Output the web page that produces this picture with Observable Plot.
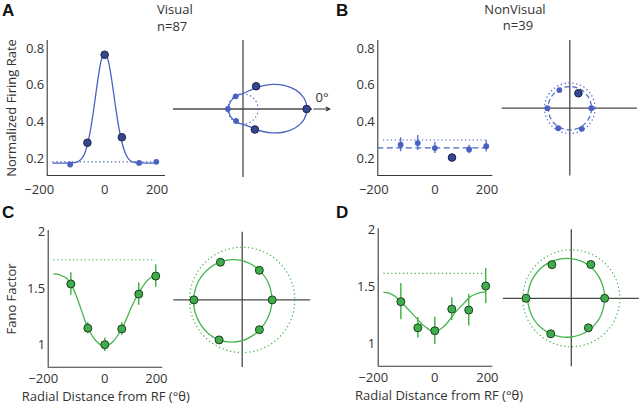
<!DOCTYPE html>
<html><head><meta charset="utf-8">
<script src="https://cdn.jsdelivr.net/npm/d3@7"></script>
<script src="https://cdn.jsdelivr.net/npm/@observablehq/plot@0.6"></script>
<style>
body{margin:0;background:#fff;}
#fig{position:relative;width:640px;height:405px;font-family:"Open Sans",sans-serif;color:#333;overflow:hidden;background:#fff}
#fig svg{position:absolute;left:0;top:0;background:transparent}
.lbl{position:absolute;white-space:nowrap;line-height:1;font-size:13px;color:#333}
.big{font-family:"Liberation Sans",Arial,sans-serif;font-weight:bold;font-size:17px;color:#111}
</style></head><body><div id="fig"></div>
<script>
// ---------- data ----------
const angles = [-120, -60, 0, 60, 120, 180];
const xTicks = [-200, 0, 200];
const rateTicks = [0.2, 0.4, 0.6, 0.8];
const fanoTicks = [1, 1.5, 2];

const visualRate = [0.167, 0.286, 0.767, 0.316, 0.176, 0.182];
const visualErr = [0.006, 0.01, 0.012, 0.01, 0.006, 0.006];
const visualSig = [0, 1, 1, 1, 0, 0];
const visualBaseline = 0.182;
const visualFitAngles = [-180,-150,-120,-100,-90,-80,-70,-60,-50,-40,-30,-20,-10,0,10,20,30,40,50,60,70,80,90,100,120,150,180];
const visualFitRate = [0.175,0.175,0.176,0.179,0.185,0.199,0.226,0.276,0.350,0.447,0.560,0.667,0.745,0.770,0.748,0.675,0.572,0.462,0.365,0.290,0.237,0.205,0.188,0.180,0.176,0.175,0.175];

const nonVisualRate = [0.275, 0.284, 0.257, 0.205, 0.249, 0.267];
const nonVisualErr = [0.038, 0.041, 0.030, 0.020, 0.023, 0.032];
const nonVisualSig = [0, 0, 0, 1, 0, 0];
const nonVisualBaseline = 0.301;
const nonVisualMean = 0.258;
const nonVisualMeanSpan = [-200, 188];

const fitAngles = [-180,-165,-150,-135,-120,-105,-90,-75,-60,-45,-30,-15,0,15,30,45,60,75,90,105,120,135,150,165,180];
const visualFano = [1.54, 1.147, 1.0, 1.14, 1.45, 1.61];
const visualFanoErr = [0.10, 0.05, 0.06, 0.055, 0.10, 0.10];
const visualFanoBaseline = 1.755;
const visualFanoFit = [1.630,1.625,1.610,1.590,1.540,1.460,1.360,1.250,1.150,1.080,1.030,1.000,0.990,1.000,1.030,1.080,1.140,1.220,1.310,1.390,1.460,1.520,1.570,1.600,1.620];

const nonVisualFano = [1.368, 1.138, 1.112, 1.303, 1.294, 1.506];
const nonVisualFanoErr = [0.16, 0.09, 0.12, 0.10, 0.14, 0.155];
const nonVisualFanoBaseline = 1.617;
const nonVisualFanoFit = [1.450,1.445,1.430,1.405,1.370,1.330,1.290,1.250,1.210,1.170,1.140,1.115,1.110,1.120,1.145,1.185,1.235,1.280,1.320,1.360,1.400,1.425,1.440,1.450,1.455];

// ---------- styles ----------
const C = {
  axis: "#3a3a3a", cross: "#4a4a4a",
  blue: "#4b63c3", blueDot: "#4a60c2", blueDark: "#34488f", blueEdge: "#1b2245", blueErr: "#5a70c8",
  green: "#45b64c", greenDot: "#3fae4a", greenEdge: "#1f3b22"
};
const FONT = "'Open Sans', sans-serif";
const fmtNeg = d => (d < 0 ? "\u2212" + Math.abs(d) : String(d));
const rad = a => a * Math.PI / 180;
const px = d => d.v * Math.cos(rad(d.a));
const py = d => d.v * Math.sin(rad(d.a));
const table = (vals, errs, sig) => angles.map((a, i) => ({a, v: vals[i], e: errs ? errs[i] : 0, sig: sig ? sig[i] : 1}));
const fitTable = (as, vs) => as.map((a, i) => ({a, v: vs[i]}));
const closed = t => t.filter(d => d.a > -180);

const fig = document.getElementById("fig");
const style = {background: "transparent", fontFamily: FONT, fontSize: "13px", color: "#333", overflow: "visible"};

function linePlot({l, r, t, b, xDomain, yDomain, yTicks, yFmt, xDx, xPad, marks}) {
  return Plot.plot({
    width: 640, height: 405,
    marginLeft: l, marginRight: 640 - r, marginTop: t, marginBottom: 405 - b,
    x: {domain: xDomain}, y: {domain: yDomain},
    style,
    marks: [
      Plot.ruleX([xDomain[0]], {stroke: C.axis, strokeWidth: 1.1}),
      Plot.ruleY([yDomain[0]], {stroke: C.axis, strokeWidth: 1.1}),
      Plot.axisY(yTicks, {tickSize: 0, tickPadding: 3, tickFormat: yFmt, label: null, fontSize: 13}),
      ...xTicks.map((tk, i) => Plot.axisX([tk], {tickSize: 0, tickPadding: xPad, tickFormat: fmtNeg, label: null, fontSize: 13, dx: xDx[i]})),
      ...marks
    ]
  });
}

function polarPlot({cx, cy, ppu, hx, hy, marks}) {
  return Plot.plot({
    width: 640, height: 405,
    marginLeft: cx - hx, marginRight: 640 - cx - hx, marginTop: cy - hy, marginBottom: 405 - cy - hy,
    x: {domain: [-hx / ppu, hx / ppu], axis: null},
    y: {domain: [-hy / ppu, hy / ppu], axis: null},
    r: {type: "linear", domain: [0, 1], range: [0, ppu]},
    style,
    marks: [
      Plot.ruleY([0], {stroke: C.cross, strokeWidth: 1.3}),
      Plot.ruleX([0], {stroke: C.cross, strokeWidth: 1.3}),
      ...marks
    ]
  });
}

const ring = (value, stroke, dash) => Plot.dot([value], {x: () => 0, y: () => 0, r: d => d, fill: "none", stroke, strokeWidth: 1.2, strokeDasharray: dash});
const DOT = "1.3,2.6";

// ---------- Panel A ----------
const vis = table(visualRate, visualErr, visualSig);
const visFit = fitTable(visualFitAngles, visualFitRate);
const span = d3.extent(angles.concat([-180]));
fig.append(linePlot({
  l: 46.7, r: 165, t: 40, b: 175,
  xDomain: [-200, 212], yDomain: [0.107, 0.845], yTicks: rateTicks, yFmt: d3.format(".1f"), xDx: [-8, 0, -5], xPad: 9,
  marks: [
    Plot.ruleY([visualBaseline], {x1: span[0], x2: span[1], stroke: C.blue, strokeWidth: 1.2, strokeDasharray: DOT}),
    Plot.line(visFit, {x: "a", y: "v", curve: "catmull-rom", stroke: C.blue, strokeWidth: 1.3}),
    Plot.ruleX(vis, {x: "a", y1: d => d.v - d.e, y2: d => d.v + d.e, stroke: C.blueErr, strokeWidth: 1.4}),
    Plot.dot(vis.filter(d => !d.sig), {x: "a", y: "v", r: 2.9, fill: C.blueDot}),
    Plot.dot(vis.filter(d => d.sig), {x: "a", y: "v", r: 3.8, fill: C.blueDark, stroke: C.blueEdge, strokeWidth: 1})
  ]
}));
const A_HX = 69.5;
fig.append(polarPlot({
  cx: 242.5, cy: 108.5, ppu: 83, hx: A_HX, hy: 68.5,
  marks: [
    ring(visualBaseline, C.blue, DOT),
    Plot.line(closed(visFit), {x: px, y: py, curve: "catmull-rom-closed", stroke: C.blue, strokeWidth: 1.3}),
    Plot.dot(vis.filter(d => !d.sig), {x: px, y: py, r: 2.9, fill: C.blueDot}),
    Plot.dot(vis.filter(d => d.sig), {x: px, y: py, r: 3.8, fill: C.blueDark, stroke: C.blueEdge, strokeWidth: 1}),
    Plot.arrow([A_HX / 83], {x1: d => d * 1.02, x2: d => d * 1.25, y1: () => 0, y2: () => 0, stroke: "#333", strokeWidth: 1.2, headLength: 5, headAngle: 50})
  ]
}));

// ---------- Panel B ----------
const nvis = table(nonVisualRate, nonVisualErr, nonVisualSig);
fig.append(linePlot({
  l: 377.3, r: 492.3, t: 40, b: 175,
  xDomain: [-200, 203], yDomain: [0.107, 0.845], yTicks: rateTicks, yFmt: d3.format(".1f"), xDx: [-4, 0, -5], xPad: 9,
  marks: [
    Plot.ruleY([nonVisualBaseline], {x1: span[0], x2: span[1], stroke: C.blue, strokeWidth: 1.2, strokeDasharray: DOT}),
    Plot.ruleY([nonVisualMean], {x1: nonVisualMeanSpan[0], x2: nonVisualMeanSpan[1], stroke: C.blue, strokeWidth: 1.3, strokeDasharray: "6,3.5"}),
    Plot.ruleX(nvis, {x: "a", y1: d => d.v - d.e, y2: d => d.v + d.e, stroke: C.blueErr, strokeWidth: 1.4}),
    Plot.dot(nvis.filter(d => !d.sig), {x: "a", y: "v", r: 2.9, fill: C.blueDot}),
    Plot.dot(nvis.filter(d => d.sig), {x: "a", y: "v", r: 3.8, fill: C.blueDark, stroke: C.blueEdge, strokeWidth: 1})
  ]
}));
fig.append(polarPlot({
  cx: 569.3, cy: 107.7, ppu: 84, hx: 67.7, hy: 67.8,
  marks: [
    ring(nonVisualBaseline, C.blue, DOT),
    ring(nonVisualMean, C.blue, "5,3"),
    Plot.dot(nvis.filter(d => !d.sig), {x: px, y: py, r: 2.9, fill: C.blueDot}),
    Plot.dot(nvis.filter(d => d.sig), {x: px, y: py, r: 3.8, fill: C.blueDark, stroke: C.blueEdge, strokeWidth: 1})
  ]
}));

// ---------- Panel C ----------
const vf = table(visualFano, visualFanoErr);
const vfFit = fitTable(fitAngles, visualFanoFit);
const fanoFmt = d => String(d);
fig.append(linePlot({
  l: 47.7, r: 162.3, t: 230, b: 366.7,
  xDomain: [-200, 205], yDomain: [0.8, 2.015], yTicks: fanoTicks, yFmt: fanoFmt, xDx: [-5, 0, -5], xPad: 6.5,
  marks: [
    Plot.ruleY([visualFanoBaseline], {x1: span[0], x2: span[1], stroke: C.green, strokeWidth: 1.2, strokeDasharray: DOT}),
    Plot.line(vfFit, {x: "a", y: "v", curve: "catmull-rom", stroke: C.green, strokeWidth: 1.3}),
    Plot.ruleX(vf, {x: "a", y1: d => d.v - d.e, y2: d => d.v + d.e, stroke: C.green, strokeWidth: 1.5}),
    Plot.dot(vf, {x: "a", y: "v", r: 4, fill: C.greenDot, stroke: C.greenEdge, strokeWidth: 1})
  ]
}));
fig.append(polarPlot({
  cx: 241.7, cy: 299.4, ppu: 30, hx: 68.5, hy: 67.7,
  marks: [
    ring(visualFanoBaseline, C.green, DOT),
    Plot.line(closed(vfFit), {x: px, y: py, curve: "catmull-rom-closed", stroke: C.green, strokeWidth: 1.3}),
    Plot.dot(vf, {x: px, y: py, r: 4, fill: C.greenDot, stroke: C.greenEdge, strokeWidth: 1})
  ]
}));

// ---------- Panel D ----------
const nf = table(nonVisualFano, nonVisualFanoErr);
const nfFit = fitTable(fitAngles, nonVisualFanoFit);
fig.append(linePlot({
  l: 377.7, r: 492.3, t: 228.3, b: 365.7,
  xDomain: [-200, 205], yDomain: [0.8, 2.01], yTicks: fanoTicks, yFmt: fanoFmt, xDx: [-5, 0, -4], xPad: 6.5,
  marks: [
    Plot.ruleY([nonVisualFanoBaseline], {x1: span[0], x2: span[1], stroke: C.green, strokeWidth: 1.2, strokeDasharray: DOT}),
    Plot.line(nfFit, {x: "a", y: "v", curve: "catmull-rom", stroke: C.green, strokeWidth: 1.3}),
    Plot.ruleX(nf, {x: "a", y1: d => d.v - d.e, y2: d => d.v + d.e, stroke: C.green, strokeWidth: 1.5}),
    Plot.dot(nf, {x: "a", y: "v", r: 4, fill: C.greenDot, stroke: C.greenEdge, strokeWidth: 1})
  ]
}));
fig.append(polarPlot({
  cx: 570.8, cy: 297.8, ppu: 30, hx: 68, hy: 68.5,
  marks: [
    ring(nonVisualFanoBaseline, C.green, DOT),
    Plot.line(closed(nfFit), {x: px, y: py, curve: "catmull-rom-closed", stroke: C.green, strokeWidth: 1.3}),
    Plot.dot(nf, {x: px, y: py, r: 4, fill: C.greenDot, stroke: C.greenEdge, strokeWidth: 1})
  ]
}));

// ---------- text ----------
function label(text, {x, base, anchor = "start", cls = "", rotate = false, fs = 13}) {
  const el = document.createElement("div");
  el.className = "lbl " + cls;
  el.textContent = text;
  const k = cls.includes("big") ? 0.8465 : 0.888;
  if (rotate) {
    el.style.left = x + "px"; el.style.top = base + "px";
    el.style.transform = "translate(-50%,-50%) rotate(-90deg)";
  } else {
    el.style.left = x + "px";
    el.style.top = (base - k * fs) + "px";
    if (anchor === "middle") el.style.transform = "translateX(-50%)";
  }
  fig.append(el);
}
label("A", {x: 2, base: 16.5, cls: "big", fs: 17});
label("B", {x: 336, base: 16.5, cls: "big", fs: 17});
label("C", {x: 2, base: 218.5, cls: "big", fs: 17});
label("D", {x: 336, base: 218.5, cls: "big", fs: 17});
label("Visual", {x: 157, base: 15});
label("n=87", {x: 157, base: 31.5});
label("NonVisual", {x: 515, base: 14.3, anchor: "middle"});
label("n=39", {x: 518, base: 30.8, anchor: "middle"});
label("0°", {x: 322, base: 103, anchor: "middle"});
label("Normalized Firing Rate", {x: 11, base: 107.7, rotate: true});
label("Fano Factor", {x: 11, base: 298.5, rotate: true});
label("Radial Distance from RF (°θ)", {x: 105.8, base: 401.5, anchor: "middle"});
label("Radial Distance from RF (°θ)", {x: 439, base: 401, anchor: "middle"});
</script></body></html>
